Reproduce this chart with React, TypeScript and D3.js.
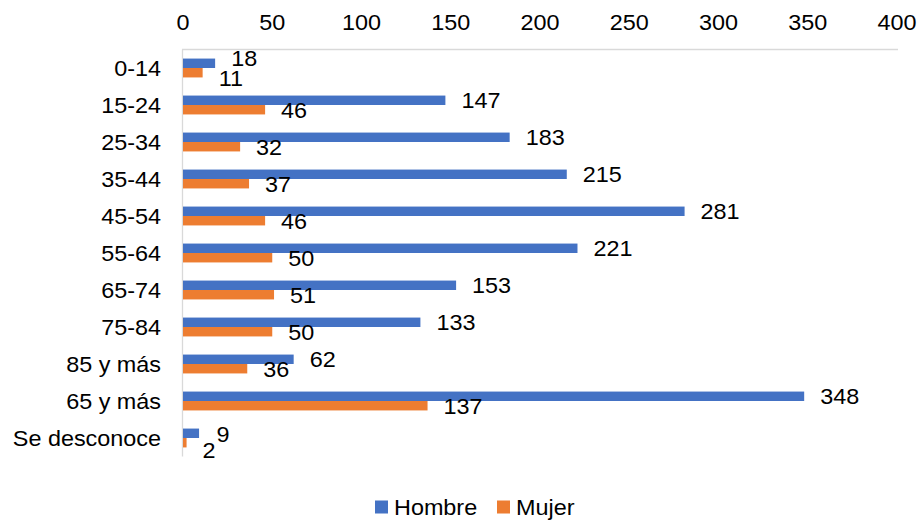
import React from "react";
import * as d3 from "d3";

const categories = ["0-14", "15-24", "25-34", "35-44", "45-54", "55-64", "65-74", "75-84", "85 y más", "65 y más", "Se desconoce"];
const hombre = [18, 147, 183, 215, 281, 221, 153, 133, 62, 348, 9];
const mujer = [11, 46, 32, 37, 46, 50, 51, 50, 36, 137, 2];
const seriesNames = ["Hombre", "Mujer"];
const seriesColors = ["#4472C4", "#ED7D31"];
const xTicks = [0, 50, 100, 150, 200, 250, 300, 350, 400];

const W = 920;
const H = 521;
const FONT = "'Liberation Sans', Arial, sans-serif";
const FS = 22.5;
const SX = 1.04;

function T({ x, y, anchor = "start", children }: { x: number; y: number; anchor?: string; children: React.ReactNode }) {
  return (
    <text
      transform={`translate(${x},${y}) scale(${SX},1)`}
      fontSize={FS}
      textAnchor={anchor}
      dominantBaseline="central"
      fill="#000"
    >
      {children}
    </text>
  );
}

export default function App() {
  const left = 183;
  const right = 897;
  const top = 49.5;
  const bottom = 456.5;

  const x = d3.scaleLinear().domain([0, 400]).range([left, right]);
  const y = d3.scaleBand().domain(categories).range([top, bottom]).paddingInner(0.49).paddingOuter(0.245);
  const bw = y.bandwidth() / 2;

  const labelOffset = 16;
  const charW = FS * 0.556 * SX;

  const rows = categories.map((c, i) => {
    const y0 = y(c)!;
    const vals = [hombre[i], mujer[i]];
    const cy = vals.map((_, k) => y0 + bw * k + bw / 2);
    const lx = vals.map((v) => x(v) + labelOffset);
    const lw = vals.map((v) => String(v).length * charW);
    // simple collision avoidance between the two labels of one group
    const overlapX = lx[0] < lx[1] + lw[1] + 3 && lx[1] < lx[0] + lw[0] + 3;
    let ly = [...cy];
    let lxs = [...lx];
    if (overlapX) {
      const mid = (cy[0] + cy[1]) / 2;
      ly = [mid - 9.75, mid + 9.75];
      if (lw[1] < charW * 1.5) {
        lxs = [lx[1] + lw[1] + 1, lx[1]];
        ly = [cy[0] + 1, mid + 12];
      }
    }
    return { c, y0, vals, lx: lxs, ly };
  });

  return (
    <svg width={W} height={H} style={{ display: "block", position: "absolute", left: 0, top: 0 }} fontFamily={FONT}>
      <rect width={W} height={H} fill="#fff" />
      <line x1={left - 0.5} x2={left - 0.5} y1={top} y2={bottom} stroke="#D9D9D9" strokeWidth={1.3} />
      <line x1={left - 1} x2={right + 1} y1={top} y2={top} stroke="#D9D9D9" strokeWidth={1.3} />
      {xTicks.map((t) => (
        <T key={t} x={x(t)} y={22} anchor="middle">
          {t}
        </T>
      ))}
      {rows.map((r) => (
        <g key={r.c}>
          <T x={161} y={r.y0 + bw} anchor="end">
            {r.c}
          </T>
          {r.vals.map((v, k) => (
            <rect key={k} x={x(0)} y={r.y0 + bw * k} width={x(v) - x(0)} height={bw} fill={seriesColors[k]} />
          ))}
          {r.vals.map((v, k) => (
            <T key={"l" + k} x={r.lx[k]} y={r.ly[k]}>
              {v}
            </T>
          ))}
        </g>
      ))}
      {seriesNames.map((s, k) => {
        const lx = k === 0 ? 375 : 497;
        return (
          <g key={s}>
            <rect x={lx} y={500.5} width={13} height={13} fill={seriesColors[k]} />
            <T x={lx + 19} y={507}>
              {s}
            </T>
          </g>
        );
      })}
    </svg>
  );
}
